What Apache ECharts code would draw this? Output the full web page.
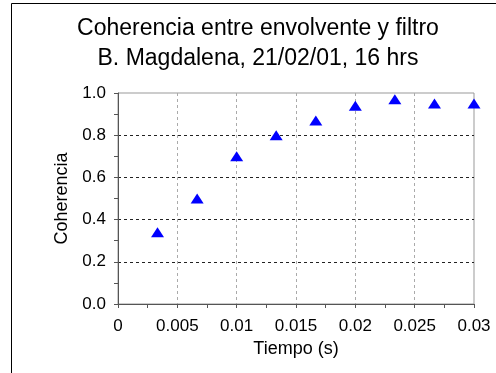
<!DOCTYPE html>
<html><head><meta charset="utf-8">
<script src="https://cdn.jsdelivr.net/npm/echarts@6/dist/echarts.min.js"></script>
<style>html,body{margin:0;padding:0;background:#fff}#c{width:496px;height:373px}</style>
</head><body><div id="c"></div>
<script>
const titleLines = ["Coherencia entre envolvente y filtro", "B. Magdalena, 21/02/01, 16 hrs"];
const xName = "Tiempo (s)";
const yName = "Coherencia";
const tiempo = [0.00333, 0.00667, 0.01, 0.01333, 0.01667, 0.02, 0.02333, 0.02667, 0.03];
const coherencia = [0.34, 0.50, 0.70, 0.80, 0.87, 0.94, 0.97, 0.95, 0.95];

const chart = echarts.init(document.getElementById('c'), null, {renderer: 'canvas'});
const font = '"Liberation Sans", Arial, sans-serif';
const ySplit = ['#222', '#222', '#222', '#222', '#222', 'rgba(0,0,0,0)'];
const xSplit = ['#aaa', '#aaa', '#aaa', '#aaa', '#aaa', '#aaa', 'rgba(0,0,0,0)'];
chart.setOption({
  animation: false,
  backgroundColor: '#fff',
  title: {
    text: titleLines.join('\n'),
    left: 253, top: 9, textAlign: 'center',
    textStyle: {fontFamily: font, fontSize: 23, fontWeight: 'normal', color: '#000', lineHeight: 30}
  },
  graphic: [{
    type: 'polyline', shape: {points: [[11.5, 373], [11.5, 3.5], [496, 3.5]]},
    style: {stroke: '#000', lineWidth: 1, fill: null}
  }],
  grid: {left: 118, right: 22, top: 93, bottom: 69, show: true, borderColor: '#999', borderWidth: 1},
  xAxis: {
    type: 'value', min: 0, max: 0.03, interval: 0.005,
    name: xName, nameLocation: 'middle', nameGap: 36,
    nameTextStyle: {fontFamily: font, fontSize: 18, color: '#000'},
    axisLine: {lineStyle: {color: '#555'}},
    axisTick: {show: true, length: 4, lineStyle: {color: '#555'}},
    minorTick: {show: true, splitNumber: 2, length: 4, lineStyle: {color: '#555'}},
    axisLabel: {fontFamily: font, fontSize: 17, color: '#000', margin: 14},
    splitLine: {show: true, lineStyle: {color: xSplit, type: [3, 3]}}
  },
  yAxis: {
    type: 'value', min: 0, max: 1, interval: 0.2,
    name: yName, nameLocation: 'middle', nameGap: 41,
    nameTextStyle: {fontFamily: font, fontSize: 18, color: '#000'},
    axisLine: {show: true, lineStyle: {color: '#555'}},
    axisTick: {show: true, length: 4, lineStyle: {color: '#555'}},
    minorTick: {show: true, splitNumber: 2, length: 4, lineStyle: {color: '#555'}},
    axisLabel: {fontFamily: font, fontSize: 17, color: '#000', margin: 12, formatter: v => v.toFixed(1)},
    splitLine: {show: true, lineStyle: {color: ySplit, type: [3, 3]}}
  },
  series: [{
    type: 'scatter',
    data: tiempo.map((t, i) => [t, coherencia[i]]),
    symbol: 'triangle', symbolSize: [13, 10],
    itemStyle: {color: '#0000ff', opacity: 1}
  }]
});
</script></body></html>
